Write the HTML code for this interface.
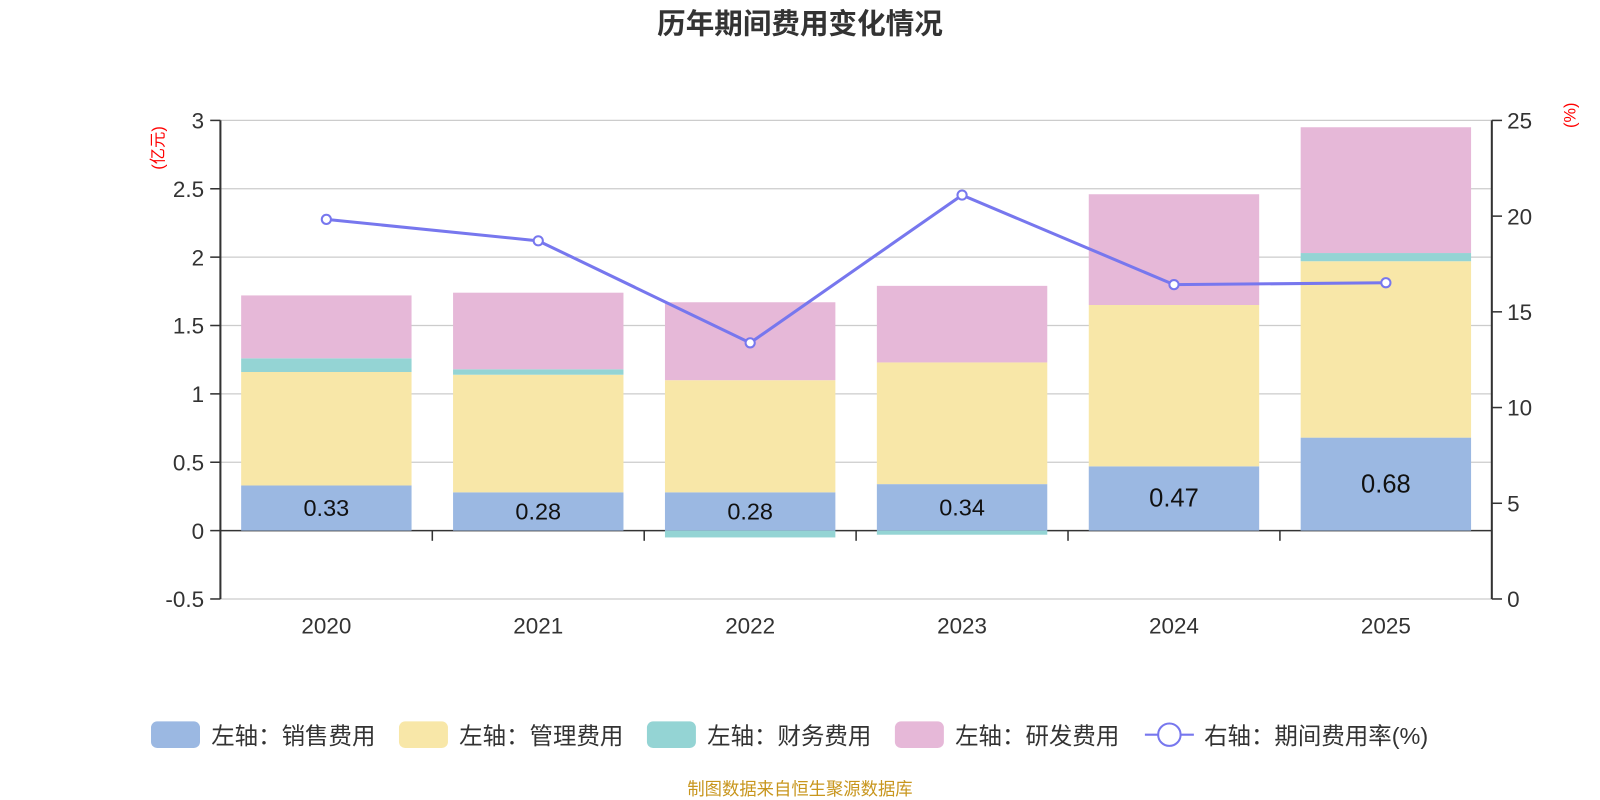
<!DOCTYPE html>
<html><head><meta charset="utf-8"><style>
body{margin:0;background:#fff;}
svg{display:block;font-family:"Liberation Sans","Noto Sans CJK SC",sans-serif;}
</style></head><body>
<svg id="c" width="1600" height="800" xmlns="http://www.w3.org/2000/svg">
<g transform="scale(1.0204)">
<text x="784" y="33" text-anchor="middle" font-size="28" font-weight="bold" fill="#333">历年期间费用变化情况</text>
<text transform="translate(160,145) rotate(-90)" text-anchor="middle" font-size="16" fill="#f00">(亿元)</text>
<text transform="translate(1544,113) rotate(-90)" text-anchor="middle" font-size="16" fill="#f00">(%)</text>
<g id="grid"></g><g id="bars"></g><g id="axes"></g><g id="line"></g>
<g font-size="23" fill="#333">
<rect x="148" y="707" width="48" height="26" rx="6" fill="#9bb8e2"/><text x="207" y="729">左轴：销售费用</text>
<rect x="391" y="707" width="48" height="26" rx="6" fill="#f8e7a8"/><text x="450" y="729">左轴：管理费用</text>
<rect x="634" y="707" width="48" height="26" rx="6" fill="#94d4d4"/><text x="693" y="729">左轴：财务费用</text>
<rect x="877" y="707" width="48" height="26" rx="6" fill="#e6b8d8"/><text x="936" y="729">左轴：研发费用</text>
<line x1="1122" y1="720" x2="1170" y2="720" stroke="#7777ee" stroke-width="2"/><circle cx="1146" cy="720" r="11" fill="#fff" stroke="#7777ee" stroke-width="2"/><text x="1180" y="729">右轴：期间费用率(%)</text>
</g>
<text x="784" y="779" text-anchor="middle" font-size="17" fill="#c8961e">制图数据来自恒生聚源数据库</text>
</g>
</svg>
<script>
const years=['2020','2021','2022','2023','2024','2025'];
const sales=[0.33,0.28,0.28,0.34,0.47,0.68];
const mgmt=[0.83,0.86,0.82,0.89,1.18,1.29];
const fin=[0.10,0.04,-0.05,-0.03,0.00,0.06];
const rd=[0.46,0.56,0.57,0.56,0.81,0.92];
const rate=[19.83,18.71,13.38,21.1,16.42,16.52];
const leftTicks=[-0.5,0,0.5,1,1.5,2,2.5,3];
const rightTicks=[0,5,10,15,20,25];
const NS='http://www.w3.org/2000/svg';
const X0=216,X1=1462,Y0=587,YT=118;
const yL=v=>Y0-(v+0.5)/3.5*(Y0-YT);
const yR=v=>Y0-v/25*(Y0-YT);
const band=(X1-X0)/years.length;
const xC=i=>X0+band*(i+0.5);
function mk(t,a,p){const e=document.createElementNS(NS,t);for(const k in a)e.setAttribute(k,a[k]);p.appendChild(e);return e;}
const G=document.getElementById('grid'),B=document.getElementById('bars'),A=document.getElementById('axes'),L=document.getElementById('line');
leftTicks.forEach(v=>{const y=yL(v);
 const g=mk('line',{x1:X0,x2:X1,y1:y,y2:y,stroke:v===0?'#333':'#ccc','stroke-width':v===0?1.5:1.2},G);
 
 
 mk('line',{x1:X0-10,x2:X0,y1:y,y2:y,stroke:'#333','stroke-width':1.5},A);
 const t=mk('text',{x:X0-16,y:y+8,'text-anchor':'end','font-size':22,fill:'#333'},A);t.textContent=v;
 
 
});
rightTicks.forEach(v=>{const y=yR(v);
 mk('line',{x1:X1,x2:X1+10,y1:y,y2:y,stroke:'#333','stroke-width':1.5},A);
 const t=mk('text',{x:X1+15,y:y+8,'font-size':22,fill:'#333'},A);t.textContent=v;
 
 
});
mk('line',{x1:X0,x2:X0,y1:YT,y2:Y0,stroke:'#333','stroke-width':2},A);
mk('line',{x1:X1,x2:X1,y1:YT,y2:Y0,stroke:'#333','stroke-width':2},A);
const bw=167;
years.forEach((yr,i)=>{
 const cx=xC(i),x=cx-bw/2;
 if(i>0)mk('line',{x1:X0+band*i,x2:X0+band*i,y1:yL(0),y2:yL(0)+10,stroke:'#333','stroke-width':1.5},A);
 const t=mk('text',{x:cx,y:621,'text-anchor':'middle','font-size':22,fill:'#333'},A);t.textContent=yr;
 
 
 let pos=0,neg=0;
 const segs=[[sales[i],'#9bb8e2','sales'],[mgmt[i],'#f8e7a8','mgmt'],[fin[i],'#94d4d4','fin'],[rd[i],'#e6b8d8','rd']];
 segs.forEach(([v,c,n])=>{
  let a,b;
  if(v>=0){a=pos;b=pos+v;pos=b;}else{a=neg+v;b=neg;neg=a;}
  const r=mk('rect',{x:x,width:bw,y:yL(b),height:Math.max(0,yL(a)-yL(b)),fill:c},B);
  
  
 });
 const lb=mk('text',{x:cx,y:(yL(0)+yL(sales[i]))/2+8,'text-anchor':'middle','font-size':sales[i]>0.4?25:23,fill:'#111'},B);
 lb.textContent=sales[i].toFixed(2);
 
 
});
const pl=mk('polyline',{points:rate.map((v,i)=>xC(i)+','+yR(v)).join(' '),fill:'none',stroke:'#7777ee','stroke-width':3},L);


rate.forEach((v,i)=>{const c=mk('circle',{cx:xC(i),cy:yR(v),r:4.5,fill:'#fff',stroke:'#7777ee','stroke-width':2},L);
 
 
});
</script>
</body></html>
